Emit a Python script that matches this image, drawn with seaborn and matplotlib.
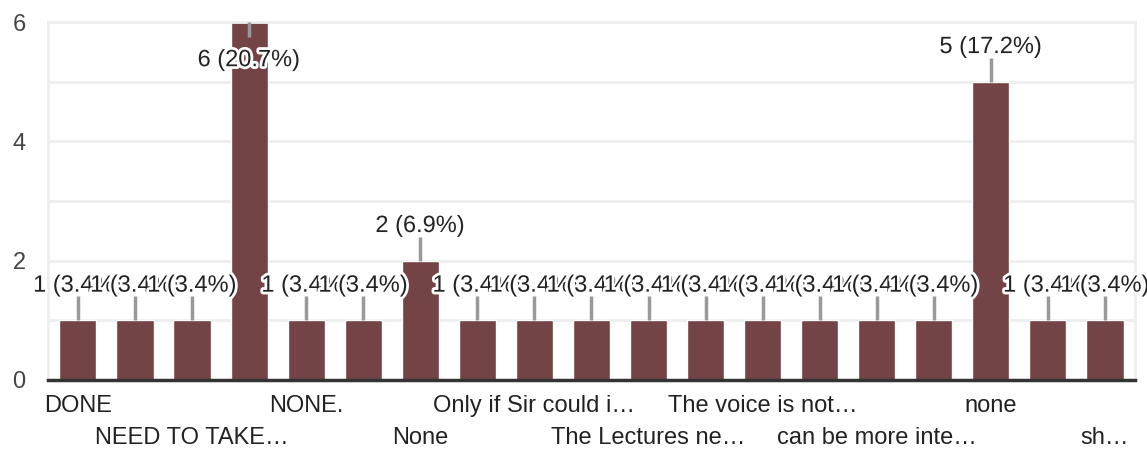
import numpy as np
import pandas as pd
import matplotlib
matplotlib.use("Agg")
import matplotlib.pyplot as plt
import matplotlib.patheffects as pe
import seaborn as sns

# responses (alphabetical, as the form sorts them); odd ones have no visible axis label
answers = ["DONE", "Good", "NEED TO TAKE…", "NO", "NONE.", "Nil", "None", "Nothing",
           "Only if Sir could i…", "Please …", "The Lectures ne…", "The teaching…",
           "The voice is not…", "Very good", "can be more inte…", "good", "none",
           "nothing", "sh…"]
counts = [1, 1, 1, 6, 1, 1, 2, 1, 1, 1, 1, 1, 1, 1, 1, 1, 5, 1, 1]
yticks = [0, 2, 4, 6]

total = sum(counts)
df = pd.DataFrame({"answer": answers, "count": counts})

sns.set_style("white")
plt.rcParams["font.family"] = ["Liberation Sans", "DejaVu Sans"]

fig = plt.figure(figsize=(11.47, 4.55), dpi=100)
ax = fig.add_axes([0.0418, 0.165, 0.9477, 0.7866])

sns.barplot(data=df, x="answer", y="count", color="#744345", saturation=1,
            width=0.65, ax=ax, zorder=2)

ax.set_xlim(-0.525, len(answers) - 0.475)
ax.set_ylim(0, 6)
ax.set_yticks(yticks)
ax.set_yticks(range(0, 7), minor=True)
ax.grid(True, which="both", axis="y", color="#eeeeee", linewidth=2, zorder=0)
ax.tick_params(axis="y", which="both", length=0, labelsize=17, labelcolor="#444444", pad=16)
ax.set_xlabel("")
ax.set_ylabel("")

for s in ["left", "top", "right"]:
    ax.spines[s].set_color("#eeeeee")
    ax.spines[s].set_linewidth(2)
ax.spines["bottom"].set_color("#333333")
ax.spines["bottom"].set_linewidth(2.5)
ax.spines["bottom"].set_zorder(5)

# x labels: every other bar, on two staggered rows
pos = list(range(0, len(answers), 2))
ax.set_xticks(pos)
ax.set_xticklabels([answers[i] for i in pos], fontsize=17, color="#222222")
ax.tick_params(axis="x", length=0)
for k, t in enumerate(ax.xaxis.get_major_ticks()):
    t.set_pad(11 if k % 2 == 0 else 34)

# value labels with leader lines
ymax = 6
for i, c in enumerate(counts):
    top = min(c, ymax)
    if c >= ymax:
        line_end, ty = ymax - 0.25, ymax - 0.64
    else:
        line_end, ty = c + 0.4, c + 0.58
    ax.plot([i, i], [top, line_end], color="#999999", linewidth=2.5, zorder=3,
            solid_capstyle="butt")
    ax.text(i, ty, f"{c} ({c / total * 100:.1f}%)", ha="center", va="center",
            fontsize=17, color="#222222", zorder=4,
            path_effects=[pe.withStroke(linewidth=4, foreground="white")])

fig.savefig("out.png", dpi=100)
